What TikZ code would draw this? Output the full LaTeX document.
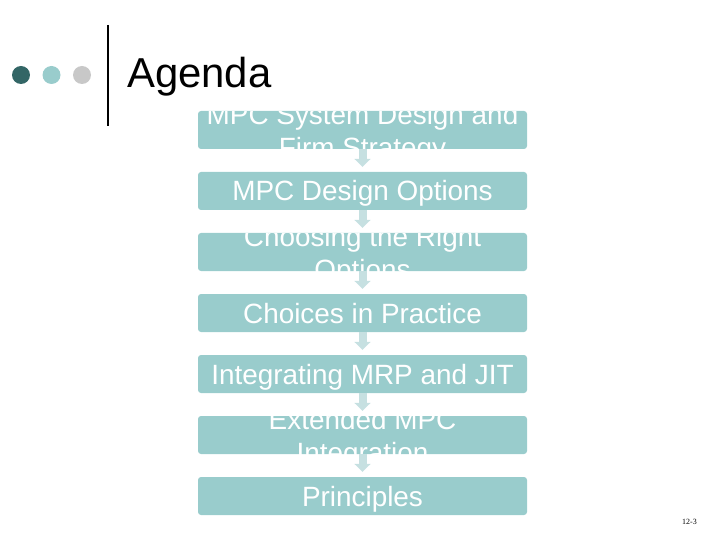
\documentclass[tikz,border=0pt]{standalone}
\usepackage{fontspec}
\setmainfont{Liberation Sans}
\newfontfamily\pagefont{Liberation Serif}
\usetikzlibrary{arrows.meta}
\definecolor{tealdark}{HTML}{336666}
\definecolor{teallight}{HTML}{99CCCC}
\definecolor{bulletgray}{HTML}{C8C8C8}
\definecolor{arrowblue}{HTML}{C6E0E1}
\tikzset{%
  every item/.style={
    rectangle,
    rounded corners=3bp,
    fill=teallight,
    minimum width=329bp,
    minimum height=38bp,
    inner sep=0pt
  },
  item text/.style={
    text=white,
    font=\fontsize{28}{33}\selectfont,
    align=center,
    inner sep=0pt,
    text height=20bp,
    text depth=0bp
  },
  item two/.style={
    text height=55bp
  },
  bullet/.style={
    circle,
    minimum size=18bp,
    inner sep=0pt
  },
  flow arrow/.style={
    draw=arrowblue,
    line width=8bp,
    -{Triangle[width=16bp,length=8bp]},
    shorten >=5bp
  },
}
\begin{document}
\begin{tikzpicture}[x=1bp, y=-1bp]
        \useasboundingbox (0,0) rectangle (720,540);

        % header
        \foreach \c [count=\i] in {tealdark,teallight,bulletgray}
        \node [bullet, fill=\c] (dot-\i) at (-9.5+30.5*\i,75) {};

        \draw [line width=2bp] (108,25) -- (108,126);

        \node [anchor=base west, inner sep=0pt, font=\fontsize{42}{50}\selectfont] (title) at (127,88) {Agenda};

        % agenda boxes
        \foreach \txt/\opt [count=\i] in {
          {MPC System Design and\\Firm Strategy}/item two,
          {MPC Design Options}/,
          {Choosing the Right\\Options}/item two,
          {Choices in Practice}/,
          {Integrating MRP and JIT}/,
          {Extended MPC\\Integration}/item two,
          {Principles}/}
        \node [every item, path picture={\node [item text, \opt] at (path picture bounding box.center) {\txt};}] (item-\i) at (362.5,69+61*\i) {};

        % arrows
        \foreach \i in {1,...,6}
        {
          \pgfmathtruncatemacro{\j}{\i+1}
          \draw [flow arrow] (item-\i.south) -- (item-\j.north);
        }

        \node [anchor=base east, inner sep=0pt, font=\pagefont\fontsize{8}{9}\selectfont] (page) at (697,524) {12-3};

\end{tikzpicture}
\end{document}
